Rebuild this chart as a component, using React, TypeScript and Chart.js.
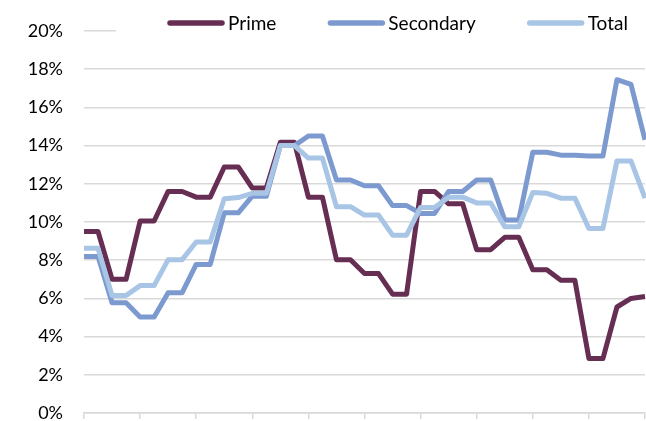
import React, { useEffect, useRef } from "react";
import { Chart, registerables } from "chart.js";

Chart.register(...registerables);

const periods: string[] = [
  "1", "2", "3", "4", "5", "6", "7", "8", "9", "10",
  "11", "12", "13", "14", "15", "16", "17", "18", "19", "20",
  "21", "22", "23", "24", "25", "26", "27", "28", "29", "30",
  "31", "32", "33", "34", "35", "36", "37", "38", "39", "40", "41",
];

const prime: number[] = [
  9.5, 9.5, 7.0, 7.0, 10.05, 10.05, 11.6, 11.6, 11.3, 11.3,
  12.88, 12.88, 11.78, 11.78, 14.18, 14.18, 11.3, 11.3, 8.02, 8.02,
  7.3, 7.3, 6.22, 6.22, 11.6, 11.6, 10.95, 10.95, 8.55, 8.55,
  9.2, 9.2, 7.5, 7.5, 6.95, 6.95, 2.85, 2.85, 5.55, 6.0, 6.1,
];

const secondary: number[] = [
  8.2, 8.2, 5.77, 5.77, 5.02, 5.02, 6.3, 6.3, 7.78, 7.78,
  10.48, 10.48, 11.35, 11.35, 14.0, 14.0, 14.5, 14.5, 12.2, 12.2,
  11.9, 11.9, 10.86, 10.86, 10.45, 10.45, 11.6, 11.6, 12.2, 12.2,
  10.1, 10.1, 13.65, 13.65, 13.5, 13.5, 13.45, 13.45, 17.45, 17.2, 14.3,
];

const total: number[] = [
  8.62, 8.62, 6.15, 6.15, 6.67, 6.67, 8.03, 8.03, 8.95, 8.95,
  11.22, 11.28, 11.5, 11.5, 14.0, 14.0, 13.35, 13.35, 10.8, 10.8,
  10.36, 10.36, 9.31, 9.31, 10.76, 10.76, 11.3, 11.3, 11.0, 11.0,
  9.75, 9.75, 11.55, 11.5, 11.25, 11.25, 9.66, 9.66, 13.2, 13.2, 11.25,
];

const seriesNames = ["Prime", "Secondary", "Total"];
const seriesColors = ["#672E53", "#7C9ACF", "#A8C5E6"];
const yTicks: number[] = [0, 2, 4, 6, 8, 10, 12, 14, 16, 18, 20];

const FONT = "Lato, 'Open Sans', sans-serif";

const legendPlugin = {
  id: "customLegend",
  afterDraw(chart: any) {
    const ctx = chart.ctx as CanvasRenderingContext2D;
    ctx.save();
    ctx.fillStyle = "#ffffff";
    ctx.fillRect(116, 6, chart.width - 116, 32);
    ctx.font = `19px ${FONT}`;
    ctx.textBaseline = "middle";
    ctx.textAlign = "left";
    const y = 23;
    let x = 167;
    chart.data.datasets.forEach((ds: any) => {
      ctx.strokeStyle = ds.borderColor;
      ctx.lineWidth = 5.5;
      ctx.lineCap = "round";
      ctx.beginPath();
      ctx.moveTo(x + 3, y);
      ctx.lineTo(x + 55, y);
      ctx.stroke();
      ctx.fillStyle = "#000000";
      ctx.fillText(ds.label, x + 61, y + 1);
      x += 61 + ctx.measureText(ds.label).width + 51;
    });
    ctx.restore();
  },
};

export default function App() {
  const ref = useRef<HTMLCanvasElement | null>(null);

  useEffect(() => {
    if (!ref.current) return;
    const values = [prime, secondary, total];
    const chart = new Chart(ref.current, {
      type: "line",
      data: {
        labels: periods,
        datasets: values.map((v, i) => ({
          label: seriesNames[i],
          data: v,
          borderColor: seriesColors[i],
          backgroundColor: seriesColors[i],
          borderWidth: 5,
          pointRadius: 0,
          tension: 0,
          fill: false,
          borderJoinStyle: "round" as const,
          borderCapStyle: "butt" as const,
          order: 3 - i,
        })),
      },
      options: {
        responsive: false,
        animation: false,
        layout: { padding: { left: 0, right: 1, top: 31, bottom: 0 } },
        plugins: {
          legend: { display: false },
          tooltip: { enabled: false },
        },
        scales: {
          x: {
            type: "category",
            offset: false,
            afterFit(scale: any) {
              scale.height = 8;
              scale.paddingLeft = 0;
              scale.paddingRight = 0;
            },
            border: { display: true, color: "#D9D9D9", width: 1.5 },
            grid: {
              display: true,
              drawOnChartArea: false,
              drawTicks: true,
              tickLength: 6,
              lineWidth: 1.5,
              color: (c: any) => (c.index % 4 === 0 ? "#D9D9D9" : "rgba(0,0,0,0)"),
            },
            ticks: {
              autoSkip: false,
              maxRotation: 0,
              padding: 0,
              callback: () => "",
            },
          },
          y: {
            min: 0,
            max: 20,
            afterFit(scale: any) {
              scale.width = 84;
              scale.paddingTop = 0;
              scale.paddingBottom = 0;
            },
            afterBuildTicks(scale: any) {
              scale.ticks = yTicks.map((v) => ({ value: v }));
            },
            border: { display: false },
            grid: {
              color: "#D9D9D9",
              lineWidth: 1.5,
              drawTicks: true,
              tickLength: 21,
              tickColor: "rgba(0,0,0,0)",
            },
            ticks: {
              padding: 0,
              color: "#000000",
              font: { family: FONT, size: 18 },
              callback: (v: any) => `${v}%`,
            },
          },
        },
      },
      plugins: [legendPlugin],
    });
    return () => chart.destroy();
  }, []);

  return (
    <div style={{ position: "fixed", left: 0, top: 0, width: 646, height: 421, background: "#fff" }}>
      <canvas ref={ref} width={646} height={421} style={{ display: "block" }} />
    </div>
  );
}
